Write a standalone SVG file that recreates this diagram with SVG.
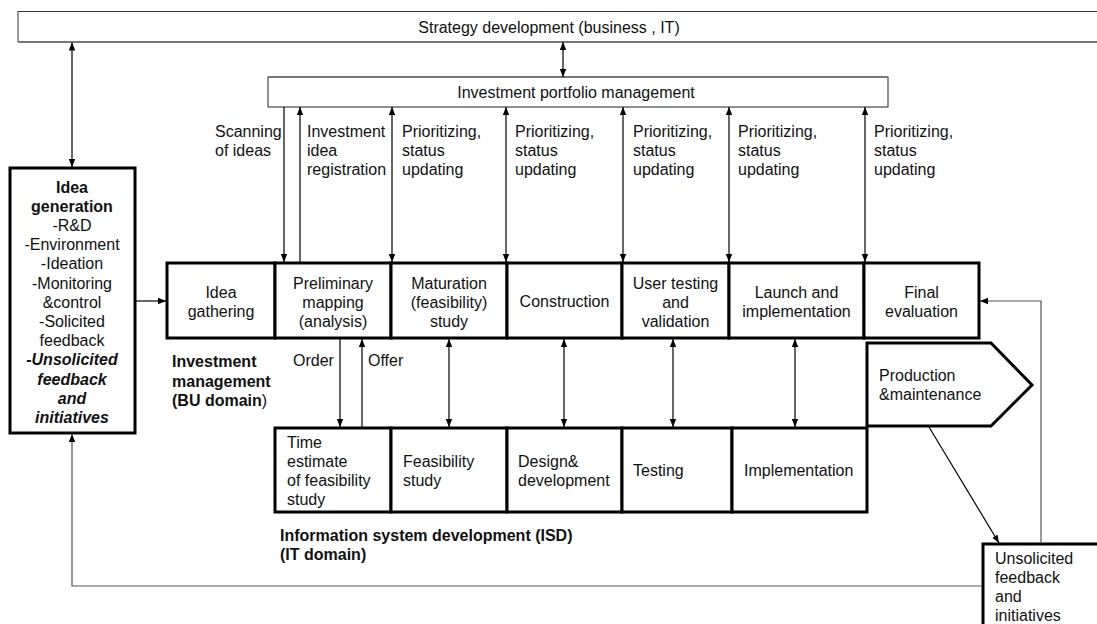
<svg xmlns="http://www.w3.org/2000/svg" width="1097" height="624" viewBox="0 0 1097 624">
<style>
text{font-family:"Liberation Sans",Arial,sans-serif;font-size:16px;fill:#111}
.b{font-weight:bold}
.c{text-anchor:middle}
.box{fill:#fff;stroke:#000;stroke-width:3}
.ln{fill:none;stroke:#000;stroke-width:1.2}
.fb{fill:none;stroke:#555;stroke-width:1.2}
</style>
<defs>
<marker id="ah" viewBox="0 0 10 10" refX="10" refY="5" markerWidth="8" markerHeight="8" markerUnits="userSpaceOnUse" orient="auto-start-reverse">
<path d="M0,1 L10,5 L0,9 z" fill="#000"/>
</marker>
</defs>
<rect width="1097" height="624" fill="#fff"/>

<g id="strategy">
<rect x="18" y="11.5" width="1090" height="30" fill="#fff" stroke="#333" stroke-width="1"/>
<line x1="18" y1="42" x2="1097" y2="42" stroke="#777" stroke-width="2"/>
<text class="c" x="549" y="33">Strategy development (business , IT)</text>
</g>

<g id="portfolio">
<rect x="268" y="77" width="620" height="30" fill="#fff" stroke="#222" stroke-width="1"/>
<line x1="268" y1="77" x2="888" y2="77" stroke="#777" stroke-width="2"/>
<text class="c" x="576" y="98">Investment portfolio management</text>
</g>

<g id="idea-generation">
<rect class="box" x="10" y="168" width="125" height="265"/>
<text class="c b" x="72" y="192.6">Idea</text>
<text class="c b" x="72" y="211.8">generation</text>
<text class="c" x="72" y="231">-R&amp;D</text>
<text class="c" x="72" y="250.2">-Environment</text>
<text class="c" x="72" y="269.4">-Ideation</text>
<text class="c" x="72" y="288.6">-Monitoring</text>
<text class="c" x="72" y="307.8">&amp;control</text>
<text class="c" x="72" y="327">-Solicited</text>
<text class="c" x="72" y="346.2">feedback</text>
<text class="c b" x="72" y="365.4" font-style="italic">-Unsolicited</text>
<text class="c b" x="72" y="384.6" font-style="italic">feedback</text>
<text class="c b" x="72" y="403.8" font-style="italic">and</text>
<text class="c b" x="72" y="423" font-style="italic">initiatives</text>
</g>

<g id="idea-gathering">
<rect class="box" x="167" y="263" width="108" height="75"/>
<text class="c" x="221" y="297.6">Idea</text>
<text class="c" x="221" y="316.8">gathering</text>
</g>
<g id="preliminary-mapping">
<rect class="box" x="275" y="263" width="116" height="75"/>
<text class="c" x="333" y="288.5">Preliminary</text>
<text class="c" x="333" y="307.7">mapping</text>
<text class="c" x="333" y="326.9">(analysis)</text>
</g>
<g id="maturation">
<rect class="box" x="391" y="263" width="116" height="75"/>
<text class="c" x="449" y="288.5">Maturation</text>
<text class="c" x="449" y="307.7">(feasibility)</text>
<text class="c" x="449" y="326.9">study</text>
</g>
<g id="construction">
<rect class="box" x="507" y="263" width="115" height="75"/>
<text class="c" x="564.5" y="307">Construction</text>
</g>
<g id="user-testing">
<rect class="box" x="622" y="263" width="107" height="75"/>
<text class="c" x="675.5" y="288.5">User testing</text>
<text class="c" x="675.5" y="307.7">and</text>
<text class="c" x="675.5" y="326.9">validation</text>
</g>
<g id="launch">
<rect class="box" x="729" y="263" width="135" height="75"/>
<text class="c" x="796.5" y="297.6">Launch and</text>
<text class="c" x="796.5" y="316.8">implementation</text>
</g>
<g id="final-evaluation">
<rect class="box" x="864" y="263" width="115" height="75"/>
<text class="c" x="921.5" y="297.6">Final</text>
<text class="c" x="921.5" y="316.8">evaluation</text>
</g>

<g id="bu-label">
<text class="b" x="172" y="367.4">Investment</text>
<text class="b" x="172" y="386.6">management</text>
<text x="172" y="405.8"><tspan class="b">(BU domain</tspan>)</text>
</g>

<g id="time-estimate">
<rect class="box" x="275" y="428" width="116" height="84"/>
<text x="287" y="447.6">Time</text>
<text x="287" y="466.8">estimate</text>
<text x="287" y="486">of feasibility</text>
<text x="287" y="505.2">study</text>
</g>
<g id="feasibility-study">
<rect class="box" x="391" y="428" width="116" height="84"/>
<text x="403" y="466.8">Feasibility</text>
<text x="403" y="486">study</text>
</g>
<g id="design-development">
<rect class="box" x="507" y="428" width="115" height="84"/>
<text x="518" y="466.8">Design&amp;</text>
<text x="518" y="486">development</text>
</g>
<g id="testing">
<rect class="box" x="622" y="428" width="110" height="84"/>
<text x="633" y="476">Testing</text>
</g>
<g id="implementation">
<rect class="box" x="732" y="428" width="135" height="84"/>
<text x="744" y="476">Implementation</text>
</g>

<g id="isd-label">
<text class="b" x="280" y="540.6">Information system development (ISD)</text>
<text class="b" x="280" y="559.8">(IT domain)</text>
</g>

<g id="production">
<path class="box" d="M867,343 H991 L1032,385 L991,426 H867 Z"/>
<text x="879" y="381">Production</text>
<text x="879" y="400">&amp;maintenance</text>
</g>

<g id="unsolicited">
<rect class="box" x="983" y="544" width="130" height="90"/>
<text x="995" y="563.6">Unsolicited</text>
<text x="995" y="582.8">feedback</text>
<text x="995" y="602">and</text>
<text x="995" y="621.2">initiatives</text>
</g>

<g id="connectors">
<line class="ln" x1="563" y1="42" x2="563" y2="77" marker-start="url(#ah)" marker-end="url(#ah)"/>
<line class="ln" x1="72" y1="42.5" x2="72" y2="167" marker-start="url(#ah)" marker-end="url(#ah)"/>
<line class="ln" x1="135" y1="301" x2="166" y2="301" marker-end="url(#ah)"/>

<line class="ln" x1="284" y1="107" x2="284" y2="262" marker-end="url(#ah)"/>
<line class="ln" x1="300" y1="262" x2="300" y2="107" marker-end="url(#ah)"/>
<line class="ln" x1="392" y1="107" x2="392" y2="262" marker-start="url(#ah)" marker-end="url(#ah)"/>
<line class="ln" x1="506" y1="107" x2="506" y2="262" marker-start="url(#ah)" marker-end="url(#ah)"/>
<line class="ln" x1="623" y1="107" x2="623" y2="262" marker-start="url(#ah)" marker-end="url(#ah)"/>
<line class="ln" x1="729" y1="107" x2="729" y2="262" marker-start="url(#ah)" marker-end="url(#ah)"/>
<line class="ln" x1="865" y1="107" x2="865" y2="262" marker-start="url(#ah)" marker-end="url(#ah)"/>

<line class="ln" x1="340" y1="339" x2="340" y2="427" marker-end="url(#ah)"/>
<line class="ln" x1="362" y1="427" x2="362" y2="339" marker-end="url(#ah)"/>
<line class="ln" x1="449" y1="339" x2="449" y2="427" marker-start="url(#ah)" marker-end="url(#ah)"/>
<line class="ln" x1="564" y1="339" x2="564" y2="427" marker-start="url(#ah)" marker-end="url(#ah)"/>
<line class="ln" x1="673" y1="339" x2="673" y2="427" marker-start="url(#ah)" marker-end="url(#ah)"/>
<line class="ln" x1="795" y1="339" x2="795" y2="427" marker-start="url(#ah)" marker-end="url(#ah)"/>

<line class="ln" x1="929" y1="427" x2="999" y2="543" marker-end="url(#ah)"/>
<path class="fb" d="M1041,543 V301 H980" marker-end="url(#ah)"/>
<path class="fb" d="M982,586 H72 V434" marker-end="url(#ah)"/>

<text x="215" y="137">Scanning</text>
<text x="215" y="156">of ideas</text>
<text x="307" y="137">Investment</text>
<text x="307" y="156">idea</text>
<text x="307" y="175">registration</text>
<text x="402" y="137">Prioritizing,</text>
<text x="402" y="156">status</text>
<text x="402" y="175">updating</text>
<text x="515" y="137">Prioritizing,</text>
<text x="515" y="156">status</text>
<text x="515" y="175">updating</text>
<text x="633" y="137">Prioritizing,</text>
<text x="633" y="156">status</text>
<text x="633" y="175">updating</text>
<text x="738" y="137">Prioritizing,</text>
<text x="738" y="156">status</text>
<text x="738" y="175">updating</text>
<text x="874" y="137">Prioritizing,</text>
<text x="874" y="156">status</text>
<text x="874" y="175">updating</text>
<text x="293" y="366">Order</text>
<text x="368" y="366">Offer</text>
</g>
</svg>
